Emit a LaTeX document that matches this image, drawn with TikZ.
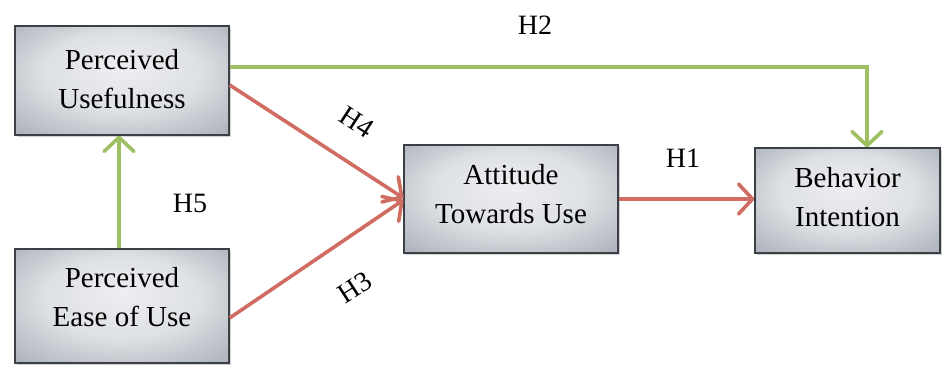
\documentclass[tikz,border=0pt]{standalone}
\usepackage{fontspec}
\setmainfont{Liberation Serif}
\usetikzlibrary{arrows.meta,shadows,calc}
\definecolor{redline}{RGB}{208,108,98}
\definecolor{greenline}{RGB}{158,192,98}
\definecolor{boxborder}{RGB}{60,64,70}
\pgfdeclareradialshading{boxshade}{\pgfpoint{0bp}{6bp}}{%
  rgb(0bp)=(0.93,0.935,0.945);
  rgb(18bp)=(0.87,0.88,0.895);
  rgb(34bp)=(0.70,0.72,0.75);
  rgb(50bp)=(0.58,0.60,0.64)}
\begin{document}
\begin{tikzpicture}[x=1pt,y=1pt,
  concept/.style={draw=boxborder, line width=1.3pt, rectangle, inner sep=0pt,
    shading=boxshade,
    drop shadow={shadow xshift=2pt, shadow yshift=-2pt, opacity=0.35, fill=gray},
    align=center},
  boxtext/.style={font=\fontsize{29}{39}\selectfont, align=center, inner sep=0pt},
  hlabel/.style={font=\fontsize{28}{32}\selectfont, inner sep=0pt},
  tip/.style={-{Straight Barb[length=14pt, width=30pt, line width=3.6pt, line cap=round, line join=round]}},
  redarrow/.style={draw=redline, line width=3.6pt, tip},
  greenarrow/.style={draw=greenline, line width=3.6pt, tip}]
\useasboundingbox (0,0) rectangle (943,365);
\fill[white] (0,0) rectangle (943,365);

\node[concept, minimum width=214pt, minimum height=109pt] (pu) at (122,284.5) {};
\node[concept, minimum width=214pt, minimum height=114pt] (peu) at (122,59) {};
\node[concept, minimum width=214pt, minimum height=108pt] (atu) at (511,166) {};
\node[concept, minimum width=185pt, minimum height=105pt] (bi) at (847.5,164.5) {};

\node[boxtext] (putext) at (122,286) {Perceived\\Usefulness};
\node[boxtext] (peutext) at (122,68) {Perceived\\Ease of Use};
\node[boxtext] (atutext) at (511,171) {Attitude\\Towards Use};
\node[boxtext] (bitext) at (847.5,168) {Behavior\\Intention};

\coordinate (h2corner) at (867,298);
\draw[greenarrow] ([yshift=13.5pt]pu.east) -- (h2corner) -- ([xshift=19.5pt]bi.north);
\draw[greenarrow] ([xshift=-3pt]peu.north) -- ([xshift=-3pt]pu.south);
\draw[redarrow] ([yshift=-4.5pt]pu.east) -- ([yshift=1pt]atu.west);
\draw[redarrow] ([yshift=-12pt]peu.east) -- ([yshift=-1pt]atu.west);
\draw[redarrow] (atu.east) -- ([yshift=1.5pt]bi.west);

\node[hlabel] (h2) at (535,340) {H2};
\node[hlabel] (h1) at (683,207) {H1};
\node[hlabel] (h5) at (190,162) {H5};
\node[hlabel, rotate=-33] (h4) at (357,243) {H4};
\node[hlabel, rotate=33] (h3) at (355,77) {H3};
\end{tikzpicture}
\end{document}
